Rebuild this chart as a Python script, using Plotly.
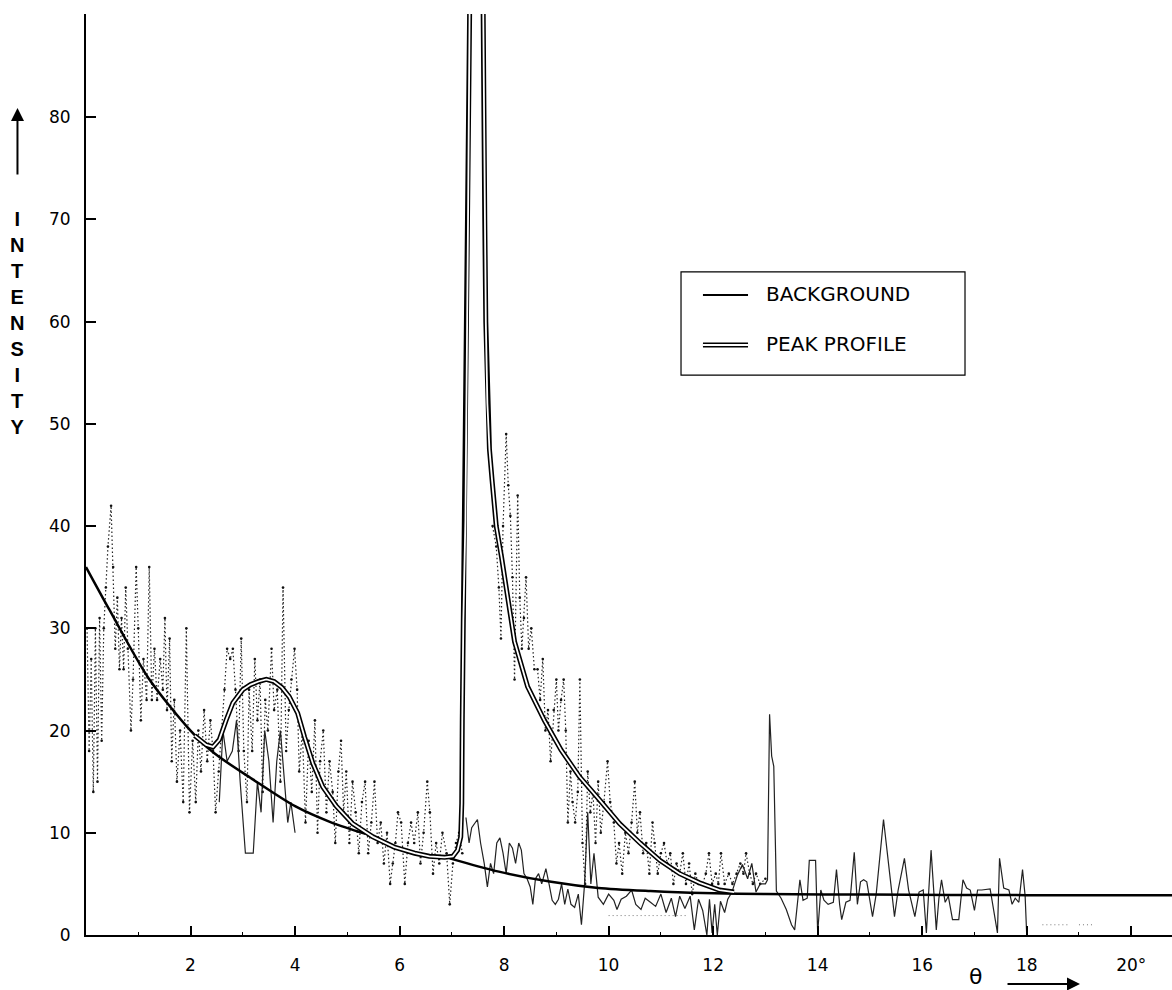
import plotly.graph_objects as go

# ---------------- data ----------------
# observed intensity (dotted scan)
scan_x = [0.02, 0.06, 0.10, 0.14, 0.18, 0.22, 0.26, 0.30, 0.34, 0.38, 0.42, 0.48, 0.52, 0.56, 0.60,
          0.64, 0.68, 0.72, 0.76, 0.80, 0.86, 0.90, 0.96, 1.00, 1.05, 1.10, 1.16, 1.21, 1.26, 1.31,
          1.36, 1.42, 1.47, 1.51, 1.55, 1.60, 1.64, 1.69, 1.74, 1.80, 1.86, 1.92, 1.98, 2.04, 2.10,
          2.15, 2.20, 2.26, 2.32, 2.38, 2.43, 2.48, 2.54, 2.60, 2.65, 2.70, 2.76, 2.81, 2.86, 2.92,
          2.97, 3.02, 3.08, 3.12, 3.18, 3.23, 3.28, 3.33, 3.38, 3.43, 3.48, 3.55, 3.60, 3.66, 3.72,
          3.77, 3.83, 3.88, 3.93, 3.99, 4.04, 4.08, 4.14, 4.20, 4.26, 4.32, 4.38, 4.43, 4.48, 4.54,
          4.60, 4.66, 4.72, 4.77, 4.83, 4.88, 4.93, 4.98, 5.04, 5.10, 5.16, 5.22, 5.28, 5.34, 5.40,
          5.46, 5.52, 5.58, 5.64, 5.70, 5.76, 5.82, 5.87, 5.92, 5.97, 6.03, 6.10, 6.16, 6.22, 6.28,
          6.35, 6.40, 6.46, 6.53, 6.58, 6.64, 6.70, 6.76, 6.82, 6.90, 6.96, 7.02, 7.08, 7.14, 7.20,
          None,
          7.78, 7.85, 7.90, 7.94, 7.98, 8.04, 8.08, 8.12, 8.16, 8.20, 8.26, 8.30, 8.34, 8.38, 8.42,
          8.47, 8.52, 8.58, 8.64, 8.69, 8.74, 8.79, 8.84, 8.89, 8.95, 9.00, 9.04, 9.09, 9.14, 9.18,
          9.22, 9.27, 9.31, 9.36, 9.41, 9.45, 9.50, 9.55, 9.60, 9.65, 9.70, 9.75, 9.80, 9.85, 9.91,
          9.98, 10.03, 10.10, 10.15, 10.20, 10.26, 10.32, 10.38, 10.44, 10.50, 10.55, 10.60, 10.66,
          10.72, 10.78, 10.84, 10.88, 10.94, 11.00, 11.06, 11.12, 11.18, 11.24, 11.30, 11.36, 11.42,
          11.48, 11.54, 11.60, 11.66, 11.72, 11.80, 11.86, 11.92, 11.98, 12.05, 12.10, 12.15, 12.22,
          12.30, 12.37, 12.45, 12.52, 12.58, 12.63, 12.70, 12.76, 12.82, 12.90, 13.00]
scan_y = [30, 18, 27, 14, 30, 15, 31, 19, 30, 34, 38, 42, 36, 28, 33,
          26, 31, 26, 34, 28, 20, 25, 36, 30, 21, 27, 23, 36, 23, 28,
          23, 27, 24, 31, 22, 29, 17, 23, 15, 20, 13, 30, 12, 19, 13,
          20, 16, 22, 17, 21, 18, 12, 16, 20, 24, 28, 27, 28, 24, 18,
          29, 18, 13, 24, 18, 27, 21, 25, 14, 23, 20, 28, 22, 24, 15,
          34, 18, 22, 25, 28, 24, 16, 20, 11, 19, 14, 21, 10, 17, 20,
          12, 17, 14, 9, 16, 19, 12, 16, 9, 15, 12, 8, 13, 15, 8,
          11, 15, 9, 11, 7, 10, 5, 7, 9, 12, 11, 5, 9, 11, 9,
          12, 7, 10, 15, 12, 6, 9, 7, 10, 8, 3, 7, 9, 10, 8,
          None,
          40, 38, 34, 29, 40, 49, 44, 41, 35, 25, 43, 33, 28, 31, 35,
          28, 30, 26, 26, 23, 27, 20, 22, 17, 22, 25, 20, 23, 25, 20,
          11, 16, 13, 11, 14, 25, 9, 5, 16, 12, 14, 9, 15, 10, 13,
          17, 13, 11, 7, 9, 6, 10, 8, 11, 15, 10, 12, 8,
          9, 6, 11, 9, 6, 8, 9, 7, 8, 5, 7, 6, 8,
          5, 7, 4, 6, 5, 5, 6, 8, 5, 6, 5, 8, 5,
          6, 5, 6, 7, 6, 8, 6, 5, 6, 5, 5.5]

# low-level scan (solid trace)
low_x = [2.55, 2.62, 2.70, 2.80, 2.88, 2.95, 3.05, 3.20, 3.28, 3.35, 3.42, 3.50, 3.58, 3.65, 3.72,
         3.80, 3.86, 3.92, 4.00, None,
         7.27, 7.33, 7.38, 7.44, 7.49, 7.55, 7.62, 7.68, 7.74, 7.80, 7.86, 7.92, 7.98, 8.04, 8.10,
         8.16, 8.22, 8.28, 8.33, 8.38, 8.44, 8.50, 8.55, 8.60, 8.66, 8.72, 8.80, 8.86, 8.92, 8.98,
         9.04, 9.10, 9.16, 9.22, 9.28, 9.35, 9.42, 9.48, 9.54, 9.60, 9.66, 9.72, 9.80, 9.90, 10.00,
         10.10, 10.16, 10.24, 10.34, 10.44, 10.52, 10.62, 10.70, 10.80, 10.90, 11.00, 11.10, 11.20,
         11.28, 11.36, 11.46, 11.56, 11.64, 11.72, 11.80, 11.88, 11.93, 11.98, 12.03, 12.08, 12.14,
         12.22, 12.28, 12.36, 12.46, 12.56, 12.66, 12.74, 12.82, 12.90, 13.00, 13.04, 13.08, 13.12,
         13.16, 13.21, 13.30, 13.40, 13.50, 13.56, 13.62, 13.66, 13.72, 13.80, 13.84, 13.96, 14.00,
         14.06, 14.12, 14.20, 14.30, 14.36, 14.42, 14.46, 14.54, 14.62, 14.70, 14.76, 14.82, 14.88,
         14.94, 15.00, 15.05, 15.12, 15.26, 15.40, 15.47, 15.54, 15.66, 15.74, 15.80, 15.86, 15.94,
         16.02, 16.08, 16.17, 16.27, 16.32, 16.37, 16.44, 16.50, 16.58, 16.70, 16.78, 16.85, 16.92,
         17.00, 17.06, 17.14, 17.30, 17.44, 17.48, 17.56, 17.66, 17.72, 17.78, 17.85, 17.92, 17.97,
         18.00]
low_y = [13, 20, 17, 18, 21, 15, 8, 8, 15, 12, 20, 17, 11, 17, 20,
         15, 11, 13, 10, None,
         11.5, 9, 10.5, 11, 11.3, 9, 7, 4.7, 7, 6, 9, 9.5, 8, 6, 9,
         8.5, 7, 9, 8.3, 6, 5.5, 4.7, 3, 5.5, 6, 5, 6.5, 5, 3.4, 3,
         3.5, 5, 3, 4.5, 3, 2.7, 4, 1, 5, 12, 5, 8, 3.7, 3, 4,
         3.4, 2.5, 3.5, 3.8, 4.4, 3.0, 2.5, 3.6, 3.2, 2.8, 4.0, 2.2, 3.6,
         1.8, 3.8, 2.6, 3.8, 0.5, 3.5, 2.4, 0, 3.5, 0.2, 3, 0, 3.3,
         2.2, 3.5, 4.2, 5.8, 6.9, 5.5, 7.0, 4.2, 5.0, 5.0, 5.4, 21.6, 17.5,
         16.5, 4.3, 3.6, 2.5, 1.0, 0.5, 3.8, 5.4, 3.4, 3.6, 7.3, 7.3, 0.2,
         4.4, 3.4, 3.0, 3.2, 6.4, 3.0, 1.5, 3.2, 3.4, 8.1, 3.0, 5.2, 5.4,
         5.2, 3.5, 1.8, 4.0, 11.3, 5.0, 1.8, 4.4, 7.5, 4.4, 3.0, 1.8, 4.2,
         4.4, 0.2, 8.3, 0.5, 3.6, 5.4, 3.2, 3.8, 1.5, 1.5, 5.4, 4.6, 4.4,
         2.4, 4.4, 4.4, 4.5, 0.2, 7.5, 4.6, 4.4, 3.0, 3.6, 3.2, 6.4, 3.8,
         0]

# faint dotted fragments
faint_x = [10.0, 11.5, None, 18.3, 18.8, None, 19.0, 19.3]
faint_y = [1.9, 1.9, None, 1.0, 1.0, None, 1.0, 1.0]

# background curve
bg_x = [0, 0.45, 1.2, 2.0, 2.45, 3.2, 4.0, 4.7, 5.35, None,
        6.96, 7.9, 8.9, 9.8, 10.8, 11.8, 13.0, 15.0, 18.0, 20.8]
bg_y = [36, 31.8, 25.1, 20.0, 17.8, 15.2, 12.6, 11.0, 9.9, None,
        7.5, 6.2, 5.2, 4.6, 4.3, 4.1, 4.0, 3.95, 3.9, 3.9]

# peak profile
pp_x = [2.08, 2.2, 2.3, 2.43, 2.55, 2.68, 2.81, 3.0, 3.15, 3.3, 3.45, 3.6, 3.75, 3.89, 4.05,
        4.18, 4.34, 4.53, 4.79, 5.1, 5.49, 5.9, 6.29, 6.57, 6.86, 7.02, 7.11, 7.17, 7.19, 7.2,
        7.22, 7.26, 7.28, 7.31, 7.34, 7.38, 7.42, 7.47,
        7.52, 7.57, 7.59, 7.61, 7.63, 7.65, 7.68, 7.72, 7.77, 7.85, 7.95, 8.05, 8.2, 8.45, 8.77,
        9.09, 9.44, 9.83, 10.21, 10.6, 10.98, 11.36, 11.74, 12.12, 12.4]
pp_y = [19.5, 19.0, 18.6, 18.4, 19.1, 21, 22.7, 24, 24.5, 24.8, 25, 24.8, 24.2, 23.3, 21.7,
        19.4, 16.8, 14.5, 12.6, 10.9, 9.6, 8.6, 8.0, 7.7, 7.6, 7.7, 8.3, 9.6, 12.9, 21,
        30.8, 40.6, 50.4, 70, 90, 115, 140, 160,
        140, 110, 90, 80, 70, 60, 52, 47.5, 44.5, 40, 37, 33.5, 28.7, 24.3, 21,
        18.1, 15.5, 13.2, 10.9, 9, 7.3, 6.0, 5.1, 4.4, 4.2]

x_tickvals = [2, 4, 6, 8, 10, 12, 14, 16, 18, 20]
x_ticktext = ["2", "4", "6", "8", "10", "12", "14", "16", "18", "20°"]
y_tickvals = [0, 10, 20, 30, 40, 50, 60, 70, 80]
y_ticktext = ["0", "10", "20", "30", "40", "50", "60", "70", "80"]

# ---------------- figure ----------------
fig = go.Figure()

fig.add_trace(go.Scatter(x=faint_x, y=faint_y, mode="lines",
                         line=dict(color="#777", width=1, dash="1px,3px"), hoverinfo="skip"))
fig.add_trace(go.Scatter(x=scan_x, y=scan_y, mode="lines+markers",
                         line=dict(color="#222", width=1.2, dash="1.5px,2.5px"),
                         marker=dict(color="#111", size=2.6)))
fig.add_trace(go.Scatter(x=low_x, y=low_y, mode="lines",
                         line=dict(color="#222", width=1.2)))
fig.add_trace(go.Scatter(x=bg_x, y=bg_y, mode="lines", name="BACKGROUND",
                         line=dict(color="black", width=2.5, shape="spline", smoothing=0.8)))
fig.add_trace(go.Scatter(x=pp_x, y=pp_y, mode="lines", name="PEAK PROFILE",
                         line=dict(color="black", width=5)))
fig.add_trace(go.Scatter(x=pp_x, y=pp_y, mode="lines",
                         line=dict(color="white", width=1.8), hoverinfo="skip"))

tickfont = dict(family="DejaVu Sans", size=17, color="black")
fig.update_xaxes(range=[0, 20.78], showline=True, linecolor="black", linewidth=2,
                 ticks="inside", ticklen=9, tickwidth=1.5, tickcolor="black",
                 tickvals=x_tickvals, ticktext=x_ticktext, tickfont=tickfont,
                 ticklabelstandoff=14, showgrid=False, zeroline=False,
                 minor=dict(ticks="inside", ticklen=3, tickwidth=1, tickcolor="black",
                            tickvals=[1, 3, 5, 7, 9, 11, 13, 15, 17, 19]))
fig.update_yaxes(range=[0, 90.1], showline=True, linecolor="black", linewidth=2,
                 ticks="inside", ticklen=10, tickwidth=1.5, tickcolor="black",
                 tickvals=y_tickvals, ticktext=y_ticktext, tickfont=tickfont,
                 ticklabelstandoff=10, showgrid=False, zeroline=False)

# legend box (manual, to draw the double-line symbol)
L, R, T, B = 0.5479, 0.8094, 0.7199, 0.608
fig.add_shape(type="rect", xref="paper", yref="paper", x0=L, x1=R, y0=B, y1=T,
              line=dict(color="black", width=1.2), fillcolor="white", layer="above")
fig.add_shape(type="line", xref="paper", yref="paper", x0=0.5681, x1=0.6096, y0=0.6949, y1=0.6949,
              line=dict(color="black", width=2))
fig.add_shape(type="line", xref="paper", yref="paper", x0=0.5681, x1=0.6096, y0=0.6406, y1=0.6406,
              line=dict(color="black", width=5))
fig.add_shape(type="line", xref="paper", yref="paper", x0=0.5681, x1=0.6096, y0=0.6406, y1=0.6406,
              line=dict(color="white", width=1.8))

legfont = dict(family="DejaVu Sans", size=20, color="black")
annotations = [
    dict(text="BACKGROUND", xref="paper", yref="paper", x=0.6243, y=0.6960,
         xanchor="left", yanchor="middle", showarrow=False, font=legfont),
    dict(text="PEAK PROFILE", xref="paper", yref="paper", x=0.6243, y=0.6417,
         xanchor="left", yanchor="middle", showarrow=False, font=legfont),
    # y title
    dict(text="I<br>N<br>T<br>E<br>N<br>S<br>I<br>T<br>Y", xref="paper", yref="paper",
         x=-0.0631, y=0.665, xanchor="center", yanchor="middle", showarrow=False,
         font=dict(family="Liberation Sans", size=20, color="black", weight="bold")),
    dict(text="", xref="paper", yref="paper", x=-0.0631, y=0.898, ax=0, ay=68,
         showarrow=True, arrowhead=2, arrowsize=1.3, arrowwidth=2, arrowcolor="black"),
    # x title
    dict(text="θ", xref="paper", yref="paper", x=0.8188, y=-0.0456, xanchor="center",
         yanchor="middle", showarrow=False,
         font=dict(family="DejaVu Sans", size=22, color="black")),
    dict(text="", xref="paper", yref="paper", x=0.9153, y=-0.0532, ax=-74, ay=0,
         showarrow=True, arrowhead=2, arrowsize=1.3, arrowwidth=2, arrowcolor="black"),
]

fig.update_layout(width=1172, height=990, margin=dict(l=86, r=0, t=14, b=55),
                  plot_bgcolor="white", paper_bgcolor="white", showlegend=False,
                  annotations=annotations)

# remove the default page margin / scrollbars so the figure fills the window exactly
fig.write_html("out.html", config={"displayModeBar": False},
               post_script="document.body.style.margin='0';"
                           "document.body.style.overflow='hidden';")
